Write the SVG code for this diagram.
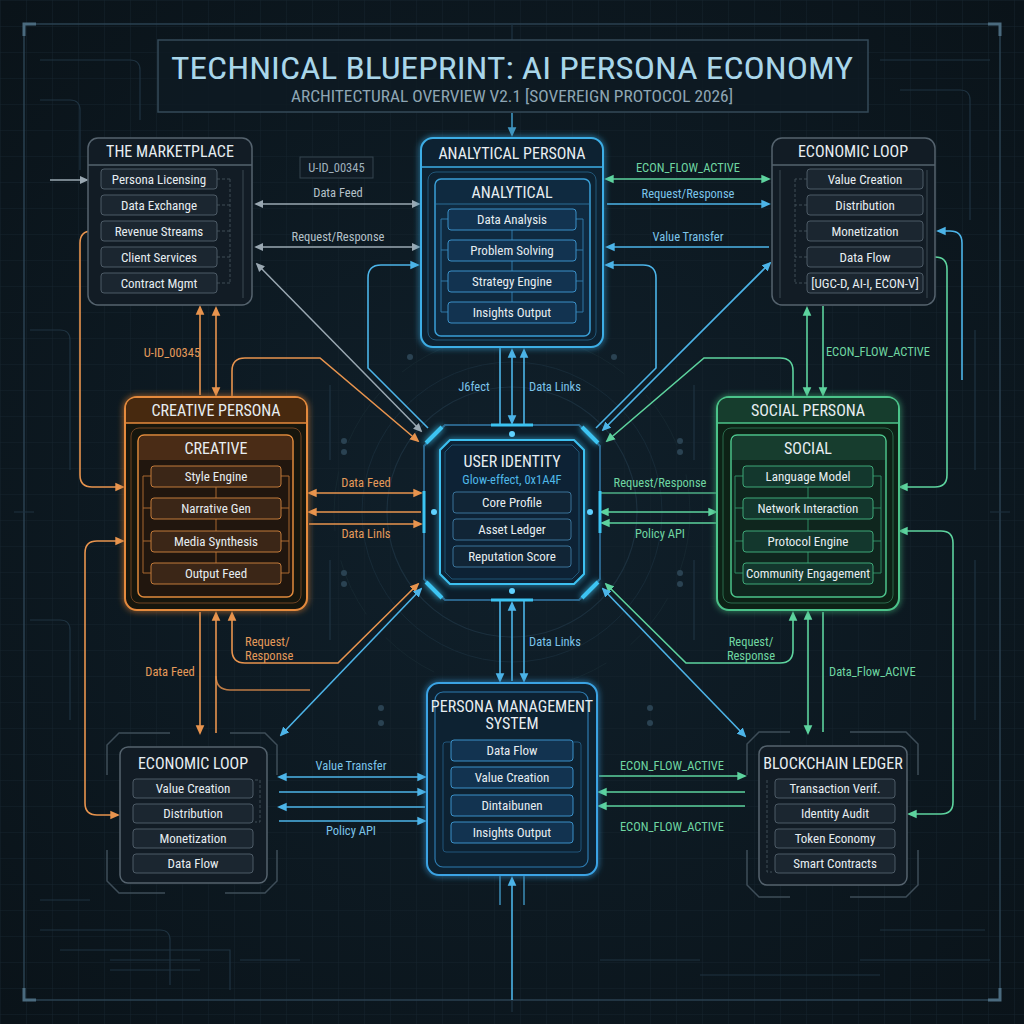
<svg xmlns="http://www.w3.org/2000/svg" width="1024" height="1024" viewBox="0 0 1024 1024">
<defs>
<style>
text{font-family:"Liberation Sans Narrow","Roboto Condensed",Roboto,"Liberation Sans",sans-serif;}
.it{font-size:13px;fill:#e6edf1;text-anchor:middle}
.hd{font-size:16px;fill:#e8eef2;text-anchor:middle}
.lb{font-size:12.5px;text-anchor:middle}
.lg{fill:#b4c0c8}.lbb{fill:#7cc4ea}.lgr{fill:#6fd6a2}.lor{fill:#e49a5a}
.gbox{fill:#121c25;stroke:#55636e;stroke-width:1.5}
.gitem{fill:#1b2630;stroke:#4d5b66;stroke-width:1}
.bitem{fill:#123350;stroke:#3a90c8;stroke-width:1}
.oitem{fill:#3b2617;stroke:#c27a3a;stroke-width:1}
.sitem{fill:#13372d;stroke:#3fa878;stroke-width:1}
.cg{fill:none;stroke:#9aa8b2;stroke-width:1.5}
.cb{fill:none;stroke:#4cb4e8;stroke-width:1.6}
.cgr{fill:none;stroke:#5dd39e;stroke-width:1.6}
.co{fill:none;stroke:#e8944e;stroke-width:1.6}
.dec{fill:none;stroke:#1f3341;stroke-width:1.2}
.decd{fill:#2a4252}
.br{fill:none;stroke:#3e4d58;stroke-width:1.5}
</style>
<pattern id="grid" width="26" height="26" patternUnits="userSpaceOnUse">
<path d="M26,0 H0 V26" fill="none" stroke="#15232d" stroke-width="1"/>
</pattern>
<radialGradient id="bgg" cx="50%" cy="50%" r="70%">
<stop offset="0" stop-color="#10202b"/>
<stop offset="1" stop-color="#0a1319"/>
</radialGradient>
<filter id="glow" x="-20%" y="-20%" width="140%" height="140%">
<feGaussianBlur in="SourceGraphic" stdDeviation="3" result="b"/>
<feMerge><feMergeNode in="b"/><feMergeNode in="SourceGraphic"/></feMerge>
</filter>
<marker id="mg" viewBox="0 0 10 10" refX="8" refY="5" markerWidth="6" markerHeight="6" orient="auto-start-reverse"><path d="M0,0.5 L10,5 L0,9.5 z" fill="#9aa8b2"/></marker>
<marker id="mb" viewBox="0 0 10 10" refX="8" refY="5" markerWidth="6" markerHeight="6" orient="auto-start-reverse"><path d="M0,0.5 L10,5 L0,9.5 z" fill="#4cb4e8"/></marker>
<marker id="mgr" viewBox="0 0 10 10" refX="8" refY="5" markerWidth="6" markerHeight="6" orient="auto-start-reverse"><path d="M0,0.5 L10,5 L0,9.5 z" fill="#5dd39e"/></marker>
<marker id="mo" viewBox="0 0 10 10" refX="8" refY="5" markerWidth="6" markerHeight="6" orient="auto-start-reverse"><path d="M0,0.5 L10,5 L0,9.5 z" fill="#e8944e"/></marker>
</defs>

<rect width="1024" height="1024" fill="url(#bgg)"/>
<rect width="1024" height="1024" fill="url(#grid)"/>

<g id="decor">
<rect x="24" y="24" width="976" height="976" fill="none" stroke="#2a4050" stroke-width="1.5"/>
<path d="M24,36 V24 H36 M988,24 H1000 V36 M1000,988 V1000 H988 M36,1000 H24 V988" fill="none" stroke="#4a6a7e" stroke-width="3"/>
<path class="dec" d="M512,24 V40 M14,512 H34 M990,512 H1010 M512,1000 V1012"/>
<path class="dec" d="M40,60 H130 Q140,60 140,70 V120 M40,100 H70 Q80,100 80,110 V170 M30,330 H60 Q70,330 70,340 V470 M30,620 H60 Q70,620 70,630 V720 M40,900 H90 M40,930 H160 Q170,930 170,940 V985 M880,60 H990 M900,90 H960 Q970,90 970,100 V220 M975,330 V470 M975,560 V720 M880,930 H985 M860,960 H990"/>
<path class="dec" d="M60,950 H230 V990 M110,960 H200 M110,970 H200 M240,960 H300 M600,960 H700 M700,975 H880"/>
<circle cx="512" cy="512" r="125" fill="none" stroke="#1b2f3d" stroke-width="1.2"/>
<circle cx="512" cy="512" r="150" fill="none" stroke="#172a37" stroke-width="1"/>
<circle cx="512" cy="512" r="178" fill="none" stroke="#15262f" stroke-width="1" stroke-dasharray="60 30"/>
<path class="dec" d="M330,385 V460 M330,560 V640 M694,385 V460 M694,560 V640"/>
<circle class="decd" cx="344" cy="441" r="3"/><circle class="decd" cx="344" cy="452" r="3"/>
<circle class="decd" cx="344" cy="573" r="3"/><circle class="decd" cx="344" cy="584" r="3"/>
<circle class="decd" cx="680" cy="441" r="3"/><circle class="decd" cx="680" cy="452" r="3"/>
<circle class="decd" cx="680" cy="573" r="3"/><circle class="decd" cx="680" cy="584" r="3"/>
<circle class="decd" cx="410" cy="357" r="3"/><circle class="decd" cx="614" cy="357" r="3"/>
<circle class="decd" cx="381" cy="723" r="3"/><circle class="decd" cx="381" cy="708" r="3"/>
<circle class="decd" cx="650" cy="723" r="3"/><circle class="decd" cx="650" cy="708" r="3"/>
</g>

<g id="title">
<rect x="158" y="40" width="710" height="72" fill="#0e1a23" fill-opacity="0.8" stroke="#344a58" stroke-width="1.5"/>
<text x="512" y="79" font-size="32" fill="#a9d6ea" text-anchor="middle" textLength="682" lengthAdjust="spacingAndGlyphs">TECHNICAL BLUEPRINT: AI PERSONA ECONOMY</text>
<text x="512" y="102" font-size="16" fill="#8ea6b4" text-anchor="middle" textLength="442" lengthAdjust="spacingAndGlyphs">ARCHITECTURAL OVERVIEW V2.1 [SOVEREIGN PROTOCOL 2026]</text>
</g>

<g id="connectors">
<!-- gray marketplace -->
<path class="cg" d="M256,204 H419" marker-start="url(#mg)" marker-end="url(#mg)"/>
<path class="cg" d="M256,247 H419" marker-start="url(#mg)" marker-end="url(#mg)"/>
<path class="cg" d="M257,264 L421,431" marker-start="url(#mg)" marker-end="url(#mg)"/>
<path class="cg" d="M50,180 H87" marker-end="url(#mg)"/>
<!-- analytical <-> econ top -->
<path class="cgr" d="M606,179 H769" marker-start="url(#mgr)" marker-end="url(#mgr)"/>
<path class="cb" d="M607,204 H769" marker-end="url(#mb)"/>
<path class="cb" d="M769,247 H607" marker-end="url(#mb)"/>
<path class="cb" d="M428,428 L368,368 V278 Q368,265 381,265 H418" marker-end="url(#mb)"/>
<path class="cb" d="M596,428 L656,368 V278 Q656,265 643,265 H606" marker-end="url(#mb)"/>
<path class="cb" d="M770,263 L603,430" marker-start="url(#mb)" marker-end="url(#mb)"/>
<path class="cgr" d="M793,396 V371 Q793,358 780,358 H704 L607,441" marker-end="url(#mgr)"/>
<path class="co" d="M232,396 V371 Q232,358 245,358 H320 L418,441" marker-end="url(#mo)"/>
<path class="cb" d="M962,380 V243 Q962,231 950,231 H938" marker-end="url(#mb)"/>
<!-- title / bottom -->
<path class="cb" d="M512,113 V135" marker-end="url(#mb)" opacity="0.8"/>
<path class="cb" d="M512,1000 V878" marker-end="url(#mb)"/>
<path class="cb" d="M500,876 V905 M524,876 V905" opacity="0.7"/>
<!-- UI verticals -->
<path class="cb" d="M500,347 V425"/>
<path class="cb" d="M512,350 V423" marker-start="url(#mb)" marker-end="url(#mb)"/>
<path class="cb" d="M524,425 V350" marker-end="url(#mb)"/>
<path class="cb" d="M500,600 V681" marker-end="url(#mb)"/>
<path class="cb" d="M512,681 V603" marker-end="url(#mb)"/>
<path class="cb" d="M524,600 V681" marker-end="url(#mb)"/>
<!-- creative <-> UI -->
<path class="co" d="M309,493 H421" marker-start="url(#mo)" marker-end="url(#mo)"/>
<path class="co" d="M421,512 H309" marker-end="url(#mo)"/>
<path class="co" d="M309,524 H421" marker-end="url(#mo)"/>
<!-- UI <-> social -->
<path class="cgr" d="M601,493 H716" opacity="0.8"/>
<path class="cgr" d="M601,512 H716" marker-start="url(#mgr)" marker-end="url(#mgr)"/>
<path class="cgr" d="M716,523 H602" marker-end="url(#mgr)"/>
<!-- lower diagonals -->
<path class="co" d="M418,584 L338,663 H245 Q232,663 232,650 V613" marker-start="url(#mo)" marker-end="url(#mo)"/>
<path class="cgr" d="M606,584 L686,663 H780 Q793,663 793,650 V613" marker-start="url(#mgr)" marker-end="url(#mgr)"/>
<path class="cb" d="M421,589 L281,735" marker-start="url(#mb)" marker-end="url(#mb)"/>
<path class="cb" d="M603,589 L745,736" marker-start="url(#mb)" marker-end="url(#mb)"/>
<!-- PMS <-> econ BL -->
<path class="cb" d="M279,777 H425" marker-start="url(#mb)" marker-end="url(#mb)"/>
<path class="cb" d="M279,792 H425" marker-end="url(#mb)"/>
<path class="cb" d="M425,807 H279" marker-end="url(#mb)"/>
<path class="cb" d="M279,821 H425" marker-end="url(#mb)"/>
<!-- PMS <-> blockchain -->
<path class="cgr" d="M599,776 H745" marker-end="url(#mgr)"/>
<path class="cgr" d="M745,792 H599" marker-end="url(#mgr)"/>
<path class="cgr" d="M745,806 H599" marker-end="url(#mgr)"/>
<!-- marketplace <-> creative -->
<path class="co" d="M200,395 V307" marker-end="url(#mo)"/>
<path class="co" d="M216,308 V395" marker-start="url(#mo)" marker-end="url(#mo)"/>
<!-- creative <-> econ BL -->
<path class="co" d="M200,612 V733" marker-end="url(#mo)"/>
<path class="co" d="M216,733 V613" marker-end="url(#mo)"/>
<path class="co" d="M216,676 Q216,690 230,690 H310" opacity="0.8"/>
<!-- econ TR <-> social -->
<path class="cgr" d="M807,395 V308" marker-start="url(#mgr)" marker-end="url(#mgr)"/>
<path class="cgr" d="M823,306 V395" marker-end="url(#mgr)"/>
<!-- social <-> blockchain -->
<path class="cgr" d="M808,612 V733" marker-start="url(#mgr)" marker-end="url(#mgr)"/>
<path class="cgr" d="M823,612 V732"/>
<!-- left orange loops -->
<path class="co" d="M123,487 H92 Q80,487 80,475 V243 Q80,231 92,231 H100" marker-start="url(#mo)" marker-end="url(#mo)"/>
<path class="co" d="M123,541 H97 Q85,541 85,553 V803 Q85,815 97,815 H118" marker-start="url(#mo)" marker-end="url(#mo)"/>
<!-- right green loops -->
<path class="cgr" d="M924,257 H935 Q947,257 947,269 V475 Q947,487 935,487 H900" marker-start="url(#mgr)" marker-end="url(#mgr)"/>
<path class="cgr" d="M900,531 H941 Q953,531 953,543 V802 Q953,814 941,814 H909" marker-start="url(#mgr)" marker-end="url(#mgr)"/>
</g>

<g id="connector-labels">
<text class="lb lg" x="338" y="197">Data Feed</text>
<text class="lb lg" x="338" y="241">Request/Response</text>
<text class="lb lgr" x="688" y="172">ECON_FLOW_ACTIVE</text>
<text class="lb lbb" x="688" y="198">Request/Response</text>
<text class="lb lbb" x="688" y="241">Value Transfer</text>
<text class="lb lbb" x="474" y="391">J6fect</text>
<text class="lb lbb" x="555" y="391">Data Links</text>
<text class="lb lor" x="172" y="357">U-ID_00345</text>
<text class="lb lor" x="366" y="487">Data Feed</text>
<text class="lb lor" x="366" y="538">Data Linls</text>
<text class="lb lgr" x="660" y="487">Request/Response</text>
<text class="lb lgr" x="660" y="538">Policy API</text>
<text class="lb lgr" x="878" y="356">ECON_FLOW_ACTIVE</text>
<text class="lb lor" x="245" y="646" text-anchor="start" style="text-anchor:start">Request/</text>
<text class="lb lor" x="245" y="660" style="text-anchor:start">Response</text>
<text class="lb lor" x="170" y="676">Data Feed</text>
<text class="lb lbb" x="555" y="646">Data Links</text>
<text class="lb lgr" x="751" y="646">Request/</text>
<text class="lb lgr" x="751" y="660">Response</text>
<text class="lb lgr" x="829" y="676" style="text-anchor:start">Data_Flow_ACIVE</text>
<text class="lb lbb" x="351" y="770">Value Transfer</text>
<text class="lb lbb" x="351" y="835">Policy API</text>
<text class="lb lgr" x="672" y="770">ECON_FLOW_ACTIVE</text>
<text class="lb lgr" x="672" y="831">ECON_FLOW_ACTIVE</text>
<rect x="300" y="157" width="73" height="21" fill="#101b24" stroke="#34444f"/>
<text class="lb" x="336.5" y="172" fill="#9fb0bc" font-size="13">U-ID_00345</text>
</g>

<g id="marketplace">
<rect class="gbox" x="88" y="138" width="164" height="167" rx="10"/>
<path d="M88,165 H252" stroke="#55636e" stroke-width="1.5"/>
<path d="M243,170 V298" stroke="#3a4852" stroke-width="1"/>
<path d="M217,179 H230 M217,205 H230 M217,231 H230 M217,257 H230 M217,283 H230 M230,179 V283" fill="none" stroke="#3e4c57" stroke-dasharray="3 2"/>
<text class="hd" x="170" y="157" font-size="15">THE MARKETPLACE</text>
<rect class="gitem" x="101" y="169" width="116" height="20" rx="3"/><text class="it" x="159" y="183.5">Persona Licensing</text>
<rect class="gitem" x="101" y="195" width="116" height="20" rx="3"/><text class="it" x="159" y="209.5">Data Exchange</text>
<rect class="gitem" x="101" y="221" width="116" height="20" rx="3"/><text class="it" x="159" y="235.5">Revenue Streams</text>
<rect class="gitem" x="101" y="247" width="116" height="20" rx="3"/><text class="it" x="159" y="261.5">Client Services</text>
<rect class="gitem" x="101" y="273" width="116" height="20" rx="3"/><text class="it" x="159" y="287.5">Contract Mgmt</text>
</g>

<g id="economic-loop-top">
<rect class="gbox" x="772" y="138" width="163" height="167" rx="10"/>
<path d="M772,165 H935" stroke="#55636e" stroke-width="1.5"/>
<path d="M780,170 V298 M927,170 V298" stroke="#3a4852" stroke-width="1"/>
<path d="M807,179 H795 M807,205 H795 M807,231 H795 M807,257 H795 M807,283 H795 M795,179 V283" fill="none" stroke="#3e4c57" stroke-dasharray="3 2"/>
<text class="hd" x="853" y="157" font-size="15">ECONOMIC LOOP</text>
<rect class="gitem" x="807" y="169" width="116" height="20" rx="3"/><text class="it" x="865" y="183.5">Value Creation</text>
<rect class="gitem" x="807" y="195" width="116" height="20" rx="3"/><text class="it" x="865" y="209.5">Distribution</text>
<rect class="gitem" x="807" y="221" width="116" height="20" rx="3"/><text class="it" x="865" y="235.5">Monetization</text>
<rect class="gitem" x="807" y="247" width="116" height="20" rx="3"/><text class="it" x="865" y="261.5">Data Flow</text>
<rect class="gitem" x="807" y="273" width="116" height="20" rx="3"/><text class="it" x="865" y="287.5">[UGC-D, AI-I, ECON-V]</text>
</g>

<g id="analytical-persona">
<rect x="421" y="138" width="182" height="209" rx="12" fill="#0d2132" stroke="#3daee6" stroke-width="2" filter="url(#glow)"/>
<path d="M421,167 H603" stroke="#3daee6" stroke-width="1.5"/>
<text class="hd" x="512" y="159" font-size="15" fill="#d8eef8">ANALYTICAL PERSONA</text>
<rect x="428" y="172" width="168" height="168" rx="8" fill="none" stroke="#22587a" stroke-width="1"/>
<rect x="435" y="179" width="155" height="157" rx="6" fill="#0f2a40" stroke="#3a9fd6" stroke-width="1.5"/>
<path d="M436,204 H589" stroke="#2a6c96" stroke-width="1"/>
<path d="M512,230 V302 M448,219 H441 V312 H448 M448,250 H441 M448,281 H441 M576,219 H583 V312 H576 M576,250 H583 M576,281 H583" fill="none" stroke="#2e77a6" stroke-width="1"/>
<text class="hd" x="512" y="198" font-size="17" fill="#e3f2fa">ANALYTICAL</text>
<rect class="bitem" x="448" y="209" width="128" height="21" rx="3"/><text class="it" x="512" y="223.5">Data Analysis</text>
<rect class="bitem" x="448" y="240" width="128" height="21" rx="3"/><text class="it" x="512" y="254.5">Problem Solving</text>
<rect class="bitem" x="448" y="271" width="128" height="21" rx="3"/><text class="it" x="512" y="285.5">Strategy Engine</text>
<rect class="bitem" x="448" y="302" width="128" height="21" rx="3"/><text class="it" x="512" y="316.5">Insights Output</text>
</g>

<g id="creative-persona">
<rect x="125" y="397" width="182" height="213" rx="12" fill="#17130f" stroke="#e48a3c" stroke-width="2" filter="url(#glow)"/>
<path d="M126,423 V409 Q126,398 137,398 H295 Q306,398 306,409 V423 Z" fill="#47290f"/>
<path d="M125,423 H307" stroke="#e48a3c" stroke-width="1.5"/>
<text class="hd" x="216" y="416" font-size="15.5" fill="#f3e4d6">CREATIVE PERSONA</text>
<rect x="131" y="428" width="170" height="175" rx="8" fill="none" stroke="#6e4222" stroke-width="1"/>
<rect x="138" y="435" width="155" height="162" rx="6" fill="#21160e" stroke="#e08a3c" stroke-width="1.5"/>
<path d="M139,460 V441 Q139,436 144,436 H287 Q292,436 292,441 V460 Z" fill="#4a2c16"/>
<path d="M216,486 V563 M151,476 H143 V573 H151 M151,508 H143 M151,541 H143 M281,476 H289 V573 H281 M281,508 H289 M281,541 H289" fill="none" stroke="#a8662e" stroke-width="1"/>
<text class="hd" x="216" y="454" font-size="17" fill="#f3e4d6">CREATIVE</text>
<rect class="oitem" x="151" y="466" width="130" height="21" rx="3"/><text class="it" x="216" y="480.5">Style Engine</text>
<rect class="oitem" x="151" y="498" width="130" height="21" rx="3"/><text class="it" x="216" y="512.5">Narrative Gen</text>
<rect class="oitem" x="151" y="531" width="130" height="21" rx="3"/><text class="it" x="216" y="545.5">Media Synthesis</text>
<rect class="oitem" x="151" y="563" width="130" height="21" rx="3"/><text class="it" x="216" y="577.5">Output Feed</text>
</g>

<g id="social-persona">
<rect x="717" y="397" width="182" height="213" rx="12" fill="#0e2019" stroke="#4cc38a" stroke-width="2" filter="url(#glow)"/>
<path d="M718,423 V409 Q718,398 729,398 H887 Q898,398 898,409 V423 Z" fill="#163d2d"/>
<path d="M717,423 H899" stroke="#4cc38a" stroke-width="1.5"/>
<text class="hd" x="808" y="416" font-size="15.5" fill="#e2f5ea">SOCIAL PERSONA</text>
<rect x="723" y="428" width="170" height="175" rx="8" fill="none" stroke="#2a6a4c" stroke-width="1"/>
<rect x="731" y="435" width="155" height="162" rx="6" fill="#0f261e" stroke="#4cc38a" stroke-width="1.5"/>
<path d="M732,460 V441 Q732,436 737,436 H880 Q885,436 885,441 V460 Z" fill="#173d2e"/>
<path d="M808,486 V563 M743,476 H735 V573 H743 M743,508 H735 M743,541 H735 M873,476 H881 V573 H873 M873,508 H881 M873,541 H881" fill="none" stroke="#2f8a62" stroke-width="1"/>
<text class="hd" x="808" y="454" font-size="17" fill="#e2f5ea">SOCIAL</text>
<rect class="sitem" x="743" y="466" width="130" height="21" rx="3"/><text class="it" x="808" y="480.5">Language Model</text>
<rect class="sitem" x="743" y="498" width="130" height="21" rx="3"/><text class="it" x="808" y="512.5">Network Interaction</text>
<rect class="sitem" x="743" y="531" width="130" height="21" rx="3"/><text class="it" x="808" y="545.5">Protocol Engine</text>
<rect class="sitem" x="743" y="563" width="130" height="21" rx="3"/><text class="it" x="808" y="577.5" textLength="124" lengthAdjust="spacingAndGlyphs">Community Engagement</text>
</g>

<g id="user-identity">
<polygon points="445,425 579,425 600,446 600,579 579,600 445,600 424,579 424,446" fill="#0c1d2a" stroke="#2a6389" stroke-width="2"/>
<path d="M426,443 L442,427 M582,427 L598,443 M598,582 L582,598 M442,598 L426,582" stroke="#3cc4f2" stroke-width="4" filter="url(#glow)"/>
<path d="M424,491 V533 M600,491 V533" stroke="#3cc4f2" stroke-width="3"/>
<path d="M491,425 H533 M491,600 H533" stroke="#3cc4f2" stroke-width="3"/>
<polygon points="450,440 574,440 584,450 584,574 574,584 450,584 440,574 440,450" fill="#0e2334" stroke="#3cc0f0" stroke-width="2" filter="url(#glow)"/>
<polygon points="452,445 572,445 579,452 579,572 572,579 452,579 445,572 445,452" fill="none" stroke="#1f5577" stroke-width="1"/>
<circle cx="512" cy="434" r="3" fill="#5fd2ff"/><circle cx="512" cy="591" r="3" fill="#5fd2ff"/>
<circle cx="434" cy="512" r="3" fill="#5fd2ff"/><circle cx="590" cy="512" r="3" fill="#5fd2ff"/>
<text class="hd" x="512" y="467" font-size="18" fill="#e8f4fa">USER IDENTITY</text>
<text x="512" y="484" font-size="12.5" fill="#4fb8e8" text-anchor="middle">Glow-effect, 0x1A4F</text>
<rect x="453" y="492" width="118" height="21" rx="3" fill="#112536" stroke="#3a7399"/><text class="it" x="512" y="506.5">Core Profile</text>
<rect x="453" y="519" width="118" height="21" rx="3" fill="#112536" stroke="#3a7399"/><text class="it" x="512" y="533.5">Asset Ledger</text>
<rect x="453" y="546" width="118" height="21" rx="3" fill="#112536" stroke="#3a7399"/><text class="it" x="512" y="560.5">Reputation Score</text>
</g>

<g id="persona-management-system">
<rect x="427" y="683" width="170" height="192" rx="12" fill="#0d2030" stroke="#3aa3e4" stroke-width="2" filter="url(#glow)"/>
<rect x="435" y="692" width="153" height="175" rx="8" fill="none" stroke="#2d7bb0" stroke-width="1.2"/>
<rect x="443" y="742" width="138" height="110" rx="3" fill="none" stroke="#21557a" stroke-width="1"/>
<text class="hd" x="512" y="712" font-size="14.5" fill="#dbeef8">PERSONA MANAGEMENT</text>
<text class="hd" x="512" y="729" font-size="14.5" fill="#dbeef8">SYSTEM</text>
<rect class="bitem" x="451" y="740" width="122" height="21" rx="3"/><text class="it" x="512" y="754.5">Data Flow</text>
<rect class="bitem" x="451" y="767" width="122" height="21" rx="3"/><text class="it" x="512" y="781.5">Value Creation</text>
<rect class="bitem" x="451" y="795" width="122" height="21" rx="3"/><text class="it" x="512" y="809.5">Dintaibunen</text>
<rect class="bitem" x="451" y="822" width="122" height="21" rx="3"/><text class="it" x="512" y="836.5">Insights Output</text>
</g>

<g id="economic-loop-bottom">
<path class="br" d="M107,775 V745 L119,733 H170 M230,733 H265 L277,745 V775 M277,850 V881 L265,893 H225 M165,893 H119 L107,881 V850"/>
<rect class="gbox" x="120" y="747" width="147" height="136" rx="8"/>
<path d="M255,780 H260 V822 H255" fill="none" stroke="#3e4c57" stroke-dasharray="3 2"/>
<text class="hd" x="193" y="769">ECONOMIC LOOP</text>
<rect class="gitem" x="133" y="779" width="120" height="19" rx="3"/><text class="it" x="193" y="793">Value Creation</text>
<rect class="gitem" x="133" y="804" width="120" height="19" rx="3"/><text class="it" x="193" y="818">Distribution</text>
<rect class="gitem" x="133" y="829" width="120" height="19" rx="3"/><text class="it" x="193" y="843">Monetization</text>
<rect class="gitem" x="133" y="854" width="120" height="19" rx="3"/><text class="it" x="193" y="868">Data Flow</text>
</g>

<g id="blockchain-ledger">
<path class="br" d="M747,775 V744 L759,732 H790 M850,732 H906 L918,744 V775 M918,850 V885 L906,897 H850 M790,897 H759 L747,885 V850"/>
<rect class="gbox" x="759" y="746" width="148" height="139" rx="8"/>
<path d="M767,780 V872 H772" fill="none" stroke="#3e4c57" stroke-dasharray="3 2"/>
<text class="hd" x="833" y="769" font-size="15">BLOCKCHAIN LEDGER</text>
<rect class="gitem" x="775" y="779" width="120" height="19" rx="3"/><text class="it" x="835" y="793">Transaction Verif.</text>
<rect class="gitem" x="775" y="804" width="120" height="19" rx="3"/><text class="it" x="835" y="818">Identity Audit</text>
<rect class="gitem" x="775" y="829" width="120" height="19" rx="3"/><text class="it" x="835" y="843">Token Economy</text>
<rect class="gitem" x="775" y="854" width="120" height="19" rx="3"/><text class="it" x="835" y="868">Smart Contracts</text>
</g>
</svg>
